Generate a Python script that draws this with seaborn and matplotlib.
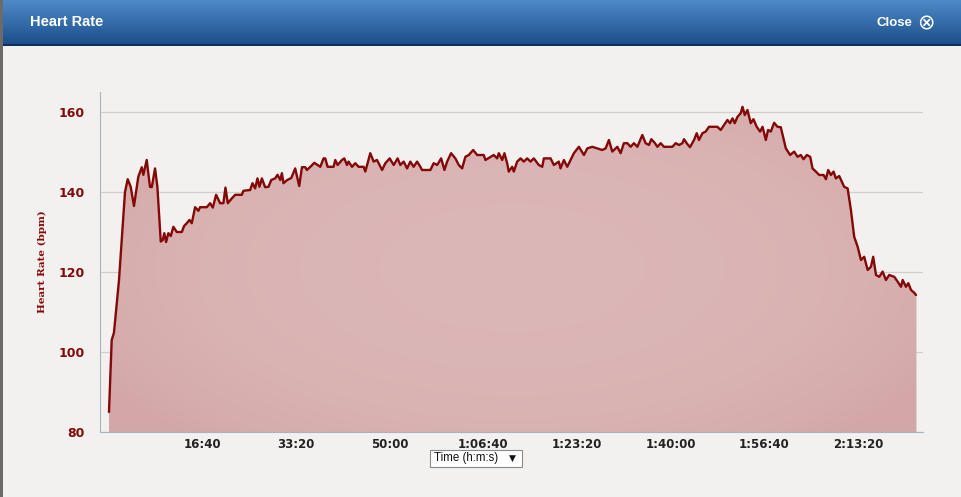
import numpy as np
import pandas as pd
import matplotlib
matplotlib.use("Agg")
import matplotlib.pyplot as plt
import seaborn as sns
from matplotlib.ticker import FuncFormatter, FixedLocator
from matplotlib.patches import Rectangle

# --- data: elapsed seconds / heart rate (bpm) ---
seconds = [
    0, 29, 53, 107, 171, 200, 232, 267, 313, 350, 367, 403, 438, 457, 492, 517,
    553, 574, 591, 610, 634, 660, 688, 724, 778, 802, 831, 859, 884, 920, 955, 973,
    1045, 1080, 1109, 1144, 1187, 1222, 1244, 1269, 1312, 1348, 1419, 1436, 1508, 1533,
    1561, 1586, 1607, 1633, 1668, 1704, 1733, 1775, 1800, 1829, 1847, 1864, 1904, 1947,
    1989, 2032, 2061, 2096, 2114, 2160, 2193, 2257, 2292, 2310, 2335, 2399, 2417, 2442,
    2489, 2513, 2542, 2559, 2596, 2631, 2666, 2720, 2738, 2791, 2827, 2863, 2917, 2952,
    2998, 3041, 3083, 3112, 3148, 3184, 3219, 3254, 3291, 3326, 3344, 3433, 3468, 3505,
    3548, 3583, 3612, 3654, 3700, 3736, 3772, 3807, 3843, 3890, 3933, 4003, 4021, 4110,
    4146, 4164, 4200, 4224, 4253, 4270, 4307, 4324, 4360, 4396, 4431, 4467, 4503, 4538,
    4591, 4628, 4645, 4717, 4752, 4805, 4823, 4859, 4895, 4930, 4966, 5019, 5073, 5109,
    5162, 5216, 5269, 5305, 5340, 5376, 5430, 5465, 5500, 5537, 5572, 5607, 5644, 5697,
    5732, 5768, 5793, 5829, 5858, 5893, 5928, 6018, 6053, 6089, 6125, 6142, 6171, 6206,
    6249, 6278, 6302, 6339, 6374, 6409, 6499, 6534, 6570, 6606, 6634, 6660, 6684, 6713,
    6748, 6767, 6791, 6820, 6855, 6884, 6919, 6955, 6981, 7016, 7040, 7069, 7105, 7141,
    7176, 7205, 7230, 7276, 7319, 7355, 7390, 7419, 7454, 7490, 7515, 7551, 7586, 7633,
    7658, 7682, 7711, 7740, 7764, 7800, 7853, 7890, 7925, 7960, 7997, 8032, 8067, 8104,
    8139, 8163, 8193, 8228, 8264, 8299, 8334, 8388, 8424, 8460, 8478, 8513, 8538, 8567,
    8602, 8620,
]
heart_rate = [
    85, 103, 104.8, 118, 140, 143.2, 141.3, 136.5, 143.8, 146.2, 144.3, 148, 141.3, 141.2, 145.9, 141.3,
    127.6, 128, 129.7, 127.5, 129.7, 129, 131.3, 130, 130, 131.5, 132.2, 133, 132.2, 136.2, 135.3, 136.2,
    136.2, 137.2, 136.1, 139.3, 137.2, 137.2, 141.1, 137.2, 138.4, 139.3, 139.3, 140.3, 140.5, 142.2,
    140.9, 143.4, 141.3, 143.4, 141.2, 141.3, 143, 143.4, 144.3, 143, 144.7, 142.2, 143, 143.5,
    145.9, 141.5, 146.2, 146.2, 145.5, 146.5, 147.3, 146.3, 148.4, 148.4, 146.3, 146.3, 148.0, 146.75,
    148.0, 148.4, 146.75, 147.6, 146.3, 147.2, 146.3, 146.3, 145.1, 149.7, 147.6, 148.0, 145.5, 147.2,
    148.4, 146.75, 148.4, 146.75, 147.6, 145.9, 147.6, 146.3, 147.6, 146.3, 145.5, 145.5, 147.2, 146.75,
    148.4, 145.5, 147.6, 149.7, 148.4, 146.75, 145.9, 148.8, 149.25, 150.5, 149.25, 149.25, 148.0, 149.25,
    148.4, 149.7, 148.0, 149.7, 147.2, 145.1, 146.3, 145.1, 147.6, 148.4, 147.6, 148.4, 147.6, 148.4,
    146.75, 146.3, 148.4, 148.4, 146.75, 147.6, 145.9, 148.0, 146.3, 148.0, 149.7, 151.3, 149.25, 150.9,
    151.3, 150.9, 150.5, 150.9, 153.0, 150.1, 151.3, 149.7, 152.2, 152.2, 151.3, 152.2, 151.3, 154.25,
    152.2, 151.75, 153.2, 152.3, 151.3, 152.2, 151.3, 151.3, 152.2, 151.75, 152.2, 153.2, 152.2, 151.2,
    153.0, 154.7, 153.0, 154.7, 155.1, 156.3, 156.3, 155.5, 156.75, 158.0, 157.2, 158.4, 157.2, 158.8,
    159.7, 161.3, 159.25, 160.5, 157.2, 158.2, 156.3, 155.1, 156.3, 153.0, 155.5, 155.1, 157.3, 156.3,
    156.2, 153.4, 150.9, 149.25, 150.1, 148.8, 149.25, 148.2, 149.25, 148.8, 145.9, 145.1, 144.25, 144.25,
    143.2, 145.5, 144.25, 145.1, 143.4, 144.0, 141.3, 140.9, 135.5, 128.8, 126.3, 123.0, 123.8, 120.5,
    121.3, 123.8, 119.25, 118.8, 120.1, 118.0, 119.25, 118.8, 117.6, 116.3, 118.0, 116.3, 117.2, 115.5,
    114.8, 114.25,
]
x_ticks = [0, 1000, 2000, 3000, 4000, 5000, 6000, 7000, 8000]
y_ticks = [80, 100, 120, 140, 160]

df = pd.DataFrame({"t": seconds, "hr": heart_rate})

sns.set_style("white")
plt.rcParams["font.family"] = ["DejaVu Sans"]

PANEL = "#f2f1f0"
DARKRED = "#850808"

fig = plt.figure(figsize=(9.61, 4.97), dpi=100)
fig.patch.set_facecolor(PANEL)

# header bar (blue gradient)
hdr = fig.add_axes([0, 1 - 46 / 497, 1, 46 / 497])
grad = np.linspace(0, 1, 64).reshape(-1, 1)
top_c = np.array([0.31, 0.54, 0.78])
bot_c = np.array([0.10, 0.30, 0.54])
img = top_c + (bot_c - top_c) * grad
hdr.imshow(img[:, None, :].repeat(2, axis=1), aspect="auto", extent=[0, 1, 0, 1])
hdr.set_xlim(0, 1)
hdr.set_ylim(0, 1)
hdr.axis("off")
hdr.axhline(0.02, color="#0e2f57", lw=1.5)
hdr.text(30 / 961, 0.52, "Heart Rate", color="white", fontsize=10.5, fontweight="bold",
         family="Liberation Sans", va="center")
hdr.text(912 / 961, 0.5, "Close", color="white", fontsize=9.5, fontweight="bold",
         family="Liberation Sans", va="center", ha="right")
hdr.text(926 / 961, 0.5, "\u2297", color="white", fontsize=15, va="center", ha="center")

# left border of the dialog
fig.add_artist(Rectangle((0, 0), 3 / 961, 1, transform=fig.transFigure,
                         facecolor="#6b6b6b", edgecolor="none"))

ax = fig.add_axes([100 / 961, 1 - 432 / 497, 823 / 961, 340 / 497])
ax.set_facecolor(PANEL)

# pink area with a soft shading towards the edges, clipped to the area under the curve
fill = ax.fill_between(df["t"], df["hr"], 80, color="#d8b0b0", lw=0, zorder=1)
gx, gy = np.meshgrid(np.linspace(-1, 1, 200), np.linspace(-1, 1, 200))
r = np.clip(np.sqrt(gx ** 2 * 0.7 + gy ** 2 * 0.5), 0, 1)
c_in = np.array([0.86, 0.715, 0.715])
c_out = np.array([0.83, 0.655, 0.655])
shade = c_in + (c_out - c_in) * (r[..., None] ** 3)
im = ax.imshow(shade, extent=[0, 8620, 80, 162], aspect="auto", zorder=1.5, origin="lower")
im.set_clip_path(fill.get_paths()[0], transform=ax.transData)

sns.lineplot(data=df, x="t", y="hr", ax=ax, color=DARKRED, lw=1.7, zorder=3)

ax.set_xlim(-96, 8695)
ax.set_ylim(80, 165)
ax.xaxis.set_major_locator(FixedLocator(x_ticks))
ax.yaxis.set_major_locator(FixedLocator(y_ticks))


def hms(v, pos):
    v = int(round(v))
    if v == 0:
        return ""
    h, rem = divmod(v, 3600)
    m, s = divmod(rem, 60)
    return f"{h}:{m:02d}:{s:02d}" if h else f"{m}:{s:02d}"


ax.xaxis.set_major_formatter(FuncFormatter(hms))
ax.grid(axis="y", color="#cfcfcf", lw=0.9, zorder=0)
ax.grid(axis="x", visible=False)
for side in ["top", "right"]:
    ax.spines[side].set_visible(False)
ax.spines["left"].set_color("#aab2bc")
ax.spines["bottom"].set_color("#aab2bc")
ax.tick_params(axis="x", direction="out", length=3, color="#aab2bc", pad=1,
               labelsize=8.5, labelcolor="#222222")
ax.tick_params(axis="y", direction="out", length=7, color="#aab2bc", pad=4,
               labelsize=9, labelcolor=DARKRED)
for lab in ax.get_xticklabels() + ax.get_yticklabels():
    lab.set_fontweight("bold")
ax.set_xlabel("")
ax.set_ylabel("Heart Rate (bpm)", family="DejaVu Serif", fontweight="bold",
              fontsize=7.5, color=DARKRED, labelpad=8)

# "Time (h:m:s)" selector under the x axis
fig.add_artist(Rectangle((430 / 961, 1 - 467 / 497), 92 / 961, 17 / 497,
                         transform=fig.transFigure, facecolor="white",
                         edgecolor="#8a8a8a", lw=0.8))
fig.text(434 / 961, 1 - 458.5 / 497, "Time (h:m:s)", fontsize=8.3,
         family="Liberation Sans", va="center", color="#111111")
fig.text(512 / 961, 1 - 458.5 / 497, "\u25bc", fontsize=6.5, va="center",
         ha="center", color="#111111")

fig.savefig("out.png", dpi=100, facecolor=fig.get_facecolor())
